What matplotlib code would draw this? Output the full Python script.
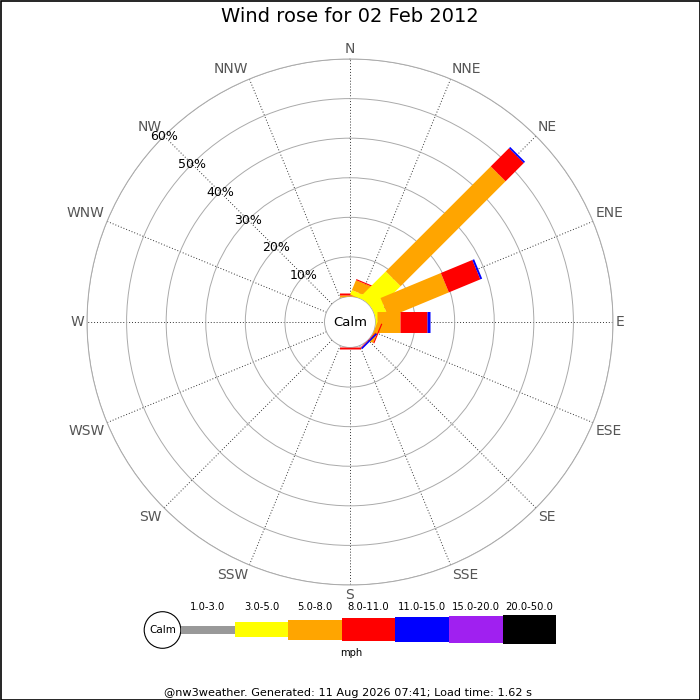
import numpy as np
import matplotlib
matplotlib.use("Agg")
import matplotlib.pyplot as plt
from matplotlib.patches import Rectangle, Circle

# ---------------- data ----------------
directions = ['N', 'NNE', 'NE', 'ENE', 'E', 'ESE', 'SE', 'SSE',
              'S', 'SSW', 'SW', 'WSW', 'W', 'WNW', 'NW', 'NNW']
bands = ['1.0-3.0', '3.0-5.0', '5.0-8.0', '8.0-11.0', '11.0-15.0', '15.0-20.0', '20.0-50.0']
band_colors = ['#999999', '#ffff00', '#ffa500', '#ff0000', '#0000ff', '#a020f0', '#000000']

# percentage of time in each speed band, per direction (N .. NNW)
pct_1_3   = [0, 0,   0,    0,    0,   0,   0,   0, 0,   0, 0, 0, 0, 0, 0, 0]
pct_3_5   = [0, 1.2, 9.0,  3.0,  0.3, 0,   0,   0, 0,   0, 0, 0, 0, 0, 0, 0]
pct_5_8   = [0.35, 2.7, 37.5, 16.5, 5.8, 1.0, 0,   0, 0,   0, 0, 0, 0, 0, 0, 0]
pct_8_11  = [0.45, 0.3, 6.5,  8.6,  7.0, 0.3, 0.2, 0, 0.5, 0, 0, 0, 0, 0, 0, 0]
pct_11_15 = [0, 0,   0.45, 0.5,  0.6, 0,   0.4, 0, 0,   0, 0, 0, 0, 0, 0, 0]
pct_15_20 = [0] * 16
pct_20_50 = [0] * 16

rings = [10, 20, 30, 40, 50, 60]
title = 'Wind rose for 02 Feb 2012'
footer = '@nw3weather. Generated: 11 Aug 2026 07:41; Load time: 1.62 s'

# ---------------- figure ----------------
fig = plt.figure(figsize=(7, 7), dpi=100)

# full-figure pixel axes for legend / text / border
lax = fig.add_axes([0, 0, 1, 1])
lax.set_xlim(0, 700)
lax.set_ylim(700, 0)
lax.axis('off')
lax.add_patch(Rectangle((0.5, 0.5), 699, 699, fill=False, ec='black', lw=1.2))
lax.text(350, 17, title, ha='center', va='center', fontsize=14)
lax.text(348, 693, footer, ha='center', va='center', fontsize=8.1)

# legend
lax.add_patch(Circle((162.5, 630), 18.3, fc='white', ec='black', lw=0.8))
lax.text(162.5, 630, 'Calm', ha='center', va='center', fontsize=7.5)
seg_heights = [8, 15, 20, 23, 25, 26.6, 28.6]
x0, seg_w = 181, 53.6
for i, (lab, col) in enumerate(zip(bands, band_colors)):
    h = seg_heights[i]
    lax.add_patch(Rectangle((x0 + i * seg_w, 629.5 - h / 2), seg_w, h, fc=col, ec='none'))
    lax.text(x0 + (i + 0.5) * seg_w, 606.5, lab, ha='center', va='center', fontsize=7.2)
lax.text(351, 653, 'mph', ha='center', va='center', fontsize=7.2)

# polar rose
ax = fig.add_axes([87 / 700, 1 - 585 / 700, 526 / 700, 526 / 700], projection='polar')
ax.set_theta_zero_location('N')
ax.set_theta_direction(-1)
ax.set_ylim(0, 60)
ax.set_rorigin(-6.44)
angles = np.deg2rad(np.arange(16) * 22.5)
ax.set_xticks(angles)
ax.set_xticklabels([])
ax.set_yticks(rings)
ax.set_yticklabels([])
ax.xaxis.grid(True, color='#333333', lw=0.7, ls=(0, (1, 2)))
ax.yaxis.grid(True, color='#aaaaaa', lw=0.7, ls='-')
ax.tick_params(length=0)
for sp in ax.spines.values():
    sp.set_color('#aaaaaa')
    sp.set_linewidth(0.7)

table = [pct_1_3, pct_3_5, pct_5_8, pct_8_11, pct_11_15, pct_15_20, pct_20_50]
for d in range(16):
    base = 0.0
    for b in range(len(bands)):
        v = table[b][d]
        if v <= 0:
            continue
        ax.plot([angles[d], angles[d]], [base, base + v], color=band_colors[b],
                lw=15.1, solid_capstyle='butt', zorder=3)
        base += v

# direction labels
for th, lab in zip(angles, directions):
    s, c = np.sin(th), np.cos(th)
    ha = 'left' if s > 0.01 else ('right' if s < -0.01 else 'center')
    va = 'bottom' if c > 0.01 else ('top' if c < -0.01 else 'center')
    ax.text(th, 60.7, lab, ha=ha, va=va, fontsize=10, color='#555555')

# percentage labels along NW
for r in rings:
    ax.text(np.deg2rad(315), r, '%d%%' % r, ha='center', va='center', fontsize=9, zorder=5)

ax.text(0.5, 0.5, 'Calm', transform=ax.transAxes, ha='center', va='center', fontsize=9.5)

fig.savefig('out.png', dpi=100)
